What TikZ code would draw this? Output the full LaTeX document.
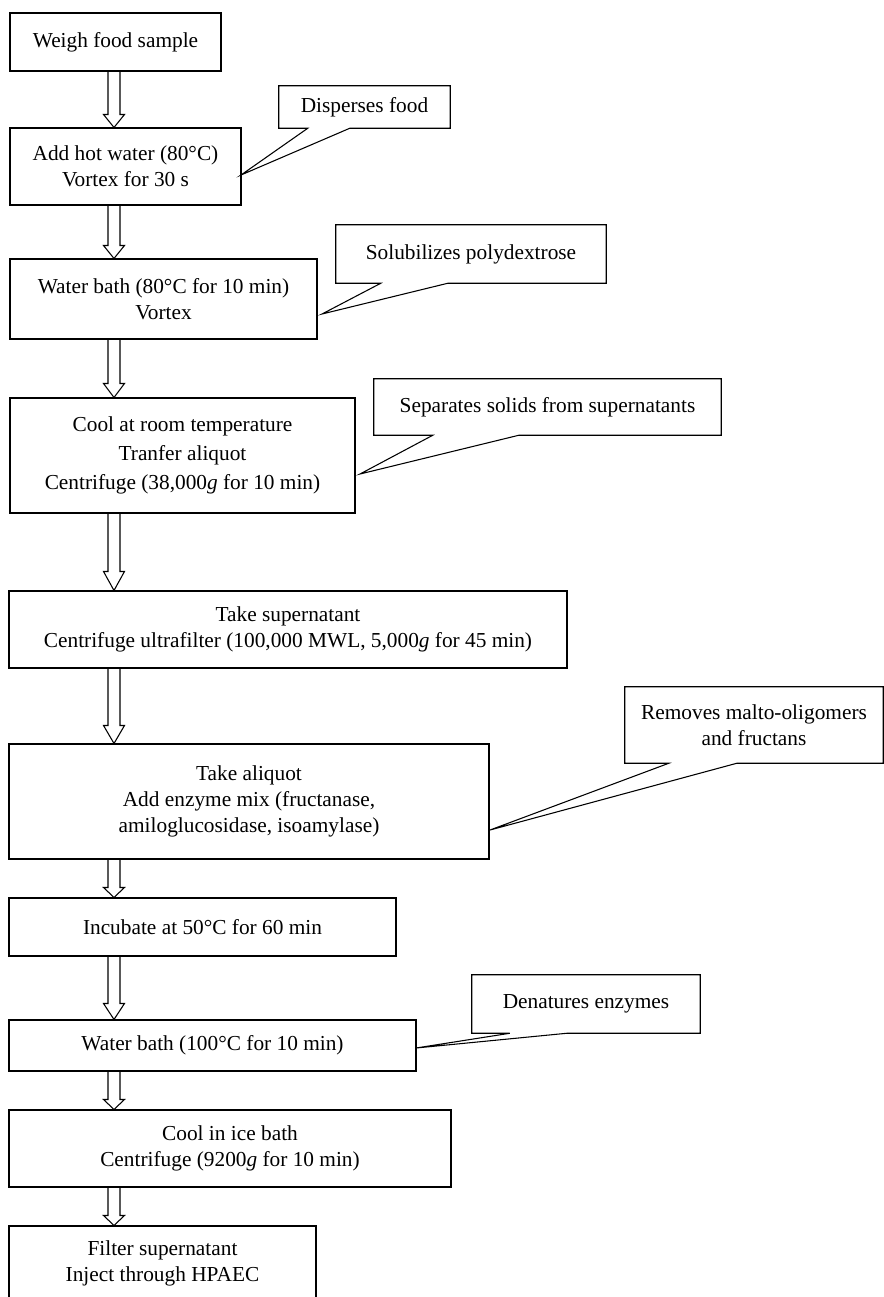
\documentclass[tikz,border=0pt]{standalone}
\usepackage{fontspec}
\setmainfont{Liberation Serif}
\usetikzlibrary{calc}
\newcommand\fatarr[3]{%
  \draw[fatarrow] ($(ax |- #1.south)+(-6,0)$) -- ($(ax |- #2.north)+(-6,-#3)$)
    -- ($(ax |- #2.north)+(-10.5,-#3)$) -- (ax |- #2.north)
    -- ($(ax |- #2.north)+(10.5,-#3)$) -- ($(ax |- #2.north)+(6,-#3)$)
    -- ($(ax |- #1.south)+(6,0)$);}
\newcommand\callshape[4]{%
  \draw[calloutline] (#1.south west) -- (#1.north west) -- (#1.north east) -- (#1.south east)
    -- ($(#1.south west)+(#3,0)$) -- (#4) -- ($(#1.south west)+(#2,0)$) -- cycle;}
\begin{document}
\begin{tikzpicture}[x=0.75pt,y=-0.75pt,
  stepbox/.style={draw,line width=0.8pt,inner sep=0pt,align=center,font=\fontsize{16}{19.5}\selectfont},
  calltext/.style={inner sep=0pt,align=center,font=\fontsize{16}{19.5}\selectfont},
  calloutline/.style={line width=0.8pt,line join=miter},
  fatarrow/.style={line width=0.8pt,line join=miter}]
\useasboundingbox (0,0) rectangle (884,1297);
\clip (0,0) rectangle (884,1297);
\coordinate (ax) at (114,0);

% steps
\node[stepbox,minimum width=158.25pt,minimum height=43.5pt] (b1) at (115.5,42) {Weigh food sample};
\node[stepbox,minimum width=173.25pt,minimum height=57.75pt] (b2) at (125.5,166.5) {Add hot water (80°C)\\Vortex for 30 s};
\node[stepbox,minimum width=230.25pt,minimum height=60pt] (b3) at (163.5,299) {Water bath (80°C for 10 min)\\Vortex};
\node[stepbox,minimum width=258.75pt,minimum height=86.25pt,font=\fontsize{16}{22}\selectfont] (b4) at (182.5,455.5) {Cool at room temperature\\Tranfer aliquot\\Centrifuge (38,000\textit{g} for 10 min)};
\node[stepbox,minimum width=418.5pt,minimum height=57.75pt] (b5) at (288,629.5) {Take supernatant\\Centrifuge ultrafilter (100,000 MWL, 5,000\textit{g} for 45 min)};
\node[stepbox,minimum width=360pt,minimum height=86.25pt] (b6) at (249,801.5) {Take aliquot\\Add enzyme mix (fructanase,\\amiloglucosidase, isoamylase)};
\node[stepbox,minimum width=290.25pt,minimum height=43.5pt] (b7) at (202.5,927) {Incubate at 50°C for 60 min};
\node[stepbox,minimum width=305.25pt,minimum height=38.25pt] (b8) at (212.5,1045.5) {Water bath (100°C for 10 min)};
\node[stepbox,minimum width=331.5pt,minimum height=57.75pt] (b9) at (230,1148.5) {Cool in ice bath\\Centrifuge (9200\textit{g} for 10 min)};
\node[stepbox,minimum width=230.25pt,minimum height=55.5pt] (b10) at (162.5,1263) {Filter supernatant\\Inject through HPAEC};

% arrows
\fatarr{b1}{b2}{13}
\fatarr{b2}{b3}{13}
\fatarr{b3}{b4}{14}
\fatarr{b4}{b5}{19}
\fatarr{b5}{b6}{18}
\fatarr{b6}{b7}{10}
\fatarr{b7}{b8}{16}
\fatarr{b8}{b9}{10}
\fatarr{b9}{b10}{10}

% callouts
\node[calltext,minimum width=128.25pt,minimum height=31.5pt] (c1) at (364.5,107) {Disperses food};
\node[calltext,minimum width=202.5pt,minimum height=43.5pt] (c2) at (471,254) {Solubilizes polydextrose};
\node[calltext,minimum width=260.25pt,minimum height=42pt] (c3) at (547.5,407) {Separates solids from supernatants};
\node[calltext,minimum width=193.5pt,minimum height=57pt] (c4) at (754,725) {Removes malto-oligomers\\and fructans};
\node[calltext,minimum width=171pt,minimum height=43.5pt] (c5) at (586,1004) {Denatures enzymes};

\coordinate (t1) at (241,175);
\coordinate (t2) at (322,314);
\coordinate (t3) at (360,474);
\coordinate (t4) at (490,830);
\coordinate (t5) at (416,1048);

\callshape{c1}{29}{71}{t1}
\callshape{c2}{45}{112}{t2}
\callshape{c3}{59}{145}{t3}
\callshape{c4}{44}{112}{t4}
\callshape{c5}{38}{95}{t5}
\end{tikzpicture}
\end{document}
